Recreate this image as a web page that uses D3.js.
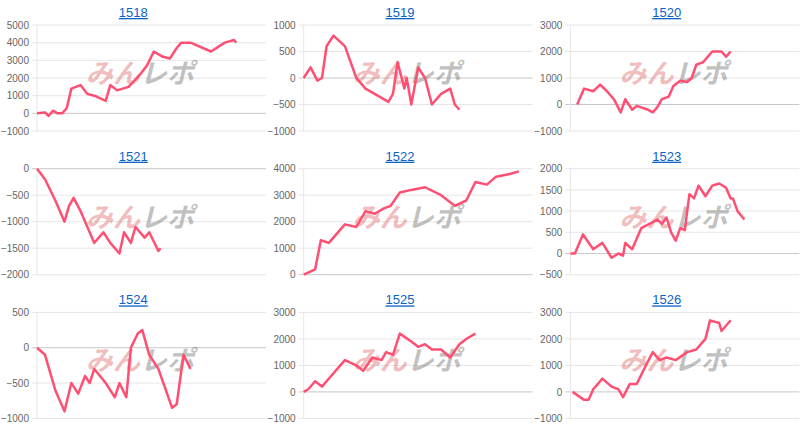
<!DOCTYPE html>
<html><head><meta charset="utf-8">
<script src="https://cdn.jsdelivr.net/npm/d3@7"></script>
<style>body{margin:0;background:#fff;font-family:Arial,"Liberation Sans",sans-serif}</style>
</head><body><div id="chart"></div>
<script>
const titles = ["1518", "1519", "1520", "1521", "1522", "1523", "1524", "1525", "1526"];
const yTicks = [
    [-1000, 0, 1000, 2000, 3000, 4000, 5000],
    [-1000, -500, 0, 500, 1000],
    [-1000, 0, 1000, 2000, 3000],
    [-2000, -1500, -1000, -500, 0],
    [0, 1000, 2000, 3000, 4000],
    [-500, 0, 500, 1000, 1500, 2000],
    [-1000, -500, 0, 500],
    [-1000, 0, 1000, 2000, 3000],
    [-1000, 0, 1000, 2000, 3000]
];
// [trade index, cumulative value]
const s1518 = [[0,0],[3.5,50],[5,-150],[7,150],[9,0],[11,0],[13,300],[15,1400],[19,1600],[22,1100],[25,1000],[30,700],[32,1600],[35,1300],[40,1500],[45,2200],[48,2700],[51,3500],[55,3200],[58,3100],[61,3700],[63,4000],[67,4000],[76,3500],[82,4000],[86,4150],[87,4000]];
const s1519 = [[0,0],[3,200],[6,-50],[8,0],[10,600],[13,800],[18,600],[23,0],[27,-200],[31,-300],[37,-450],[39,-300],[41,300],[44,-200],[45,0],[47,-500],[50,200],[53,0],[56,-500],[60,-300],[64,-200],[66,-500],[68,-600]];
const s1520 = [[3,0],[6,600],[10,500],[13,750],[16,500],[19,200],[22,-300],[24,200],[27,-200],[29,-50],[34,-200],[36,-300],[38,-100],[40,200],[43,300],[45,700],[48,900],[51,850],[53,1000],[55,1500],[58,1600],[62,2000],[66,2000],[68,1800],[70,2000]];
const s1521 = [[0,0],[3.5,-200],[8,-600],[12,-1000],[14,-700],[16,-550],[19,-800],[25,-1400],[29,-1200],[32,-1400],[36,-1600],[38,-1200],[41,-1400],[43,-1100],[47,-1300],[49,-1200],[53,-1550],[54,-1500]];
const s1522 = [[0,0],[5,200],[7.5,1300],[11,1200],[18,1900],[23,1800],[27,2400],[31,2300],[35,2500],[38,2600],[42,3100],[47,3200],[53,3300],[60,3000],[66,2600],[71,2800],[75,3500],[80,3400],[84,3700],[90,3800],[94,3900]];
const s1523 = [[0,0],[2,0],[5.5,450],[10,100],[14,250],[18,-100],[21,0],[23,-50],[24,250],[27,100],[31,600],[38,800],[40,700],[42,850],[44,500],[46,300],[48,600],[50,550],[52,1400],[54,1300],[56,1600],[59,1350],[62,1600],[65,1650],[68,1550],[70,1300],[71,1300],[73,1000],[76,800]];
const s1524 = [[0,0],[3.5,-100],[8,-600],[12,-900],[15,-500],[18,-650],[21,-400],[23,-500],[25,-300],[30,-500],[34,-700],[36,-500],[39,-700],[41,0],[44,200],[46,250],[49,-100],[53,-300],[59,-850],[61,-800],[64,-100],[67,-300]];
const s1525 = [[0,0],[2,100],[5,400],[8,200],[12,600],[16,1000],[18,1200],[23,1000],[26,800],[30,1300],[34,1200],[36,1500],[39,1400],[42,2200],[47,1900],[50,1700],[53,1800],[56,1600],[60,1600],[64,1300],[68,1800],[71,2000],[73,2100],[75,2200]];
const s1526 = [[1,0],[6,-300],[8,-300],[10,100],[14,500],[18,200],[21,100],[23,-200],[26,300],[29,300],[33,1000],[36,1500],[39,1200],[42,1300],[46,1200],[51,1500],[55,1600],[59,2000],[61,2700],[65,2600],[66,2300],[69,2600],[70,2700]];
const series = [s1518, s1519, s1520, s1521, s1522, s1523, s1524, s1525, s1526];

const width = 800, height = 431;
const cellW = width / 3, cellH = 143.7;
const plotL = 37, plotW = 229, plotT = 25, plotB = 131;

const svg = d3.select("#chart").append("svg")
    .attr("width", width).attr("height", height);

titles.forEach((t, i) => {
    const g = svg.append("g")
        .attr("transform", `translate(${(i % 3) * cellW},${Math.floor(i / 3) * cellH})`);
    const ticks = yTicks[i];
    const x = d3.scaleLinear().domain([0, 100]).range([plotL, plotL + plotW]);
    const y = d3.scaleLinear().domain([ticks[0], ticks[ticks.length - 1]]).range([plotB, plotT]);

    // grid
    g.selectAll(".grid").data(ticks).join("line")
        .attr("x1", plotL - 5).attr("x2", plotL + plotW)
        .attr("y1", d => y(d)).attr("y2", d => y(d))
        .attr("stroke", d => d === 0 ? "#c8c8c8" : "#e6e6e6").attr("stroke-width", 1);
    g.append("line").attr("x1", plotL).attr("x2", plotL)
        .attr("y1", plotT).attr("y2", plotB).attr("stroke", "#e6e6e6");

    const axis = g.append("g").attr("transform", `translate(${plotL - 6},0)`)
        .call(d3.axisLeft(y).tickValues(ticks).tickSize(0).tickPadding(2).tickFormat(d3.format("d")));
    axis.select(".domain").remove();
    axis.selectAll("text").attr("fill", "#666").attr("font-size", "10px")
        .attr("font-family", "Arial, 'Liberation Sans', sans-serif");

    // watermark
    const wm = g.append("text")
        .attr("x", plotL + plotW * 0.45).attr("y", 83)
        .attr("text-anchor", "middle")
        .attr("font-size", "27px").attr("font-weight", "bold").attr("font-style", "italic")
        .attr("font-family", "'Noto Sans CJK JP', sans-serif")
        .attr("opacity", 0.45);
    wm.append("tspan").attr("fill", "#e07070").text("みん");
    wm.append("tspan").attr("fill", "#777").text("レポ");

    g.append("path").datum(series[i])
        .attr("fill", "none").attr("stroke", "#ff4f73").attr("stroke-width", 2.5)
        .attr("stroke-linejoin", "round")
        .attr("d", d3.line().x(d => x(d[0])).y(d => y(d[1])));

    g.append("text").attr("x", cellW / 2).attr("y", 17)
        .attr("text-anchor", "middle").attr("font-size", "13px")
        .attr("fill", "#0b63c5").attr("text-decoration", "underline")
        .text(t);
});
</script></body></html>
